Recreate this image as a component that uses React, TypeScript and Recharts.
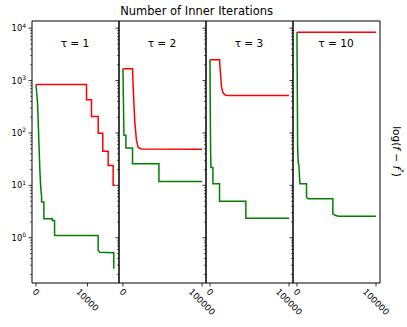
import { Line, LineChart, ReferenceArea, XAxis, YAxis } from 'recharts'

type Pt = { x: number; y: number }

// tau = 1
const tau1Red: Pt[] = [
  { x: 0, y: 843 }, { x: 9816, y: 843 }, { x: 9816, y: 430 }, { x: 10785, y: 430 },
  { x: 10785, y: 207 }, { x: 12083, y: 207 }, { x: 12083, y: 99 }, { x: 12975, y: 99 },
  { x: 12975, y: 45 }, { x: 14021, y: 45 }, { x: 14021, y: 24 }, { x: 14990, y: 24 },
  { x: 14990, y: 10 }, { x: 15360, y: 10 },
]
const tau1Green: Pt[] = [
  { x: 0, y: 843 }, { x: 320, y: 361 }, { x: 765, y: 19 }, { x: 900, y: 10 },
  { x: 1095, y: 6 }, { x: 1095, y: 4.8 }, { x: 1540, y: 4.8 }, { x: 1540, y: 2.3 },
  { x: 3170, y: 2.3 }, { x: 3170, y: 2.14 }, { x: 3614, y: 2.14 }, { x: 3614, y: 1.1 },
  { x: 12080, y: 1.1 }, { x: 12080, y: 0.57 }, { x: 12390, y: 0.53 }, { x: 15110, y: 0.52 },
  { x: 15110, y: 0.256 },
]

// tau = 2
const tau2Red: Pt[] = [
  { x: 0, y: 1680 }, { x: 12100, y: 1680 }, { x: 13000, y: 700 }, { x: 15000, y: 161 },
  { x: 17100, y: 72 }, { x: 19250, y: 53 }, { x: 23400, y: 49.5 }, { x: 100000, y: 49 },
]
const tau2Green: Pt[] = [
  { x: 0, y: 1680 }, { x: 600, y: 400 }, { x: 1000, y: 150 }, { x: 1250, y: 90 },
  { x: 3750, y: 90 }, { x: 3750, y: 51.5 }, { x: 12100, y: 51.5 }, { x: 12100, y: 25.8 },
  { x: 45500, y: 25.8 }, { x: 45500, y: 11.9 }, { x: 100000, y: 11.9 },
]

// tau = 3
const tau3Red: Pt[] = [
  { x: 0, y: 2495 }, { x: 12100, y: 2495 }, { x: 12700, y: 1800 }, { x: 13400, y: 1350 },
  { x: 14600, y: 750 }, { x: 16600, y: 575 }, { x: 19600, y: 526 }, { x: 25000, y: 520 },
  { x: 100000, y: 520 },
]
const tau3Green: Pt[] = [
  { x: 0, y: 2495 }, { x: 400, y: 300 }, { x: 830, y: 46 }, { x: 1300, y: 22 },
  { x: 3750, y: 22 }, { x: 3750, y: 10.7 }, { x: 12100, y: 10.7 }, { x: 12100, y: 5.0 },
  { x: 45400, y: 5.0 }, { x: 45400, y: 2.37 }, { x: 100000, y: 2.37 },
]

// tau = 10
const tau10Red: Pt[] = [{ x: 0, y: 8390 }, { x: 100000, y: 8390 }]
const tau10Green: Pt[] = [
  { x: 0, y: 8390 }, { x: 400, y: 1000 }, { x: 830, y: 54 }, { x: 1670, y: 26 },
  { x: 2500, y: 24 }, { x: 3750, y: 10.7 }, { x: 12100, y: 10.7 }, { x: 12100, y: 6.0 },
  { x: 14100, y: 5.55 }, { x: 45400, y: 5.55 }, { x: 45400, y: 2.87 }, { x: 48750, y: 2.66 },
  { x: 52900, y: 2.58 }, { x: 100000, y: 2.58 },
]

const panelTitles = ['1', '2', '3', '10']
const xTicksShort = [0, 10000]
const xTicksLong = [0, 100000]
const yMajorTicks = [1, 10, 100, 1000, 10000]
const yMinorMult = [2, 3, 4, 5, 6, 7, 8, 9]
const yMinorDecades = [0.1, 1, 10, 100, 1000]

const yDomain: [number, number] = [0.137, 13700]
const yTicks = [...yMajorTicks, ...yMinorDecades.flatMap((d) => yMinorMult.map((m) => m * d))]

const panels = [
  { red: tau1Red, green: tau1Green, xDomain: [-768, 16125], xTicks: xTicksShort },
  { red: tau2Red, green: tau2Green, xDomain: [-5000, 105000], xTicks: xTicksLong },
  { red: tau3Red, green: tau3Green, xDomain: [-5000, 105000], xTicks: xTicksLong },
  { red: tau10Red, green: tau10Green, xDomain: [-5000, 105000], xTicks: xTicksLong },
]

const FONT = '"DejaVu Sans", sans-serif'
const PLOT_TOP = 20.5
const PLOT_H = 262
const PLOT_W = 87
const plotLefts = [31.5, 118.5, 205.5, 292.5]
const AXIS_W = 30
const AXIS_H = 40
const RIGHT_PAD = 30

function YTick(props: any) {
  const { x, y, payload, showLabel } = props
  const lg = Math.log10(payload.value)
  const exp = Math.round(lg)
  const major = Math.abs(lg - exp) < 1e-6
  return (
    <g>
      <line x1={x - (major ? 3.5 : 2)} x2={x} y1={y} y2={y} stroke="#000" strokeWidth={major ? 0.8 : 0.6} />
      {major && showLabel && (
        <text x={x - 6} y={y + 3} textAnchor="end" fontSize={8.3} fontFamily={FONT} fill="#000">
          10
          <tspan dy={-3.5} fontSize={6}>
            {exp}
          </tspan>
        </text>
      )}
    </g>
  )
}

function XTick(props: any) {
  const { x, y, payload } = props
  const label = String(payload.value)
  const fs = 8.6
  const half = ((label.length * 0.636 + 0.73) * fs * 0.707) / 2
  const cy = y + 5 + half
  return (
    <g>
      <line x1={x} x2={x} y1={y} y2={y + 3.5} stroke="#000" strokeWidth={0.8} />
      <text
        x={x}
        y={cy}
        textAnchor="middle"
        dominantBaseline="central"
        transform={`rotate(45 ${x} ${cy})`}
        fontSize={fs}
        fontFamily={FONT}
        fill="#000"
      >
        {label}
      </text>
    </g>
  )
}

function Panel({ idx }: { idx: number }) {
  const p = panels[idx]
  const left = plotLefts[idx] - AXIS_W
  const top = PLOT_TOP - 5
  const w = AXIS_W + PLOT_W + RIGHT_PAD
  const h = 5 + PLOT_H + AXIS_H
  return (
    <div style={{ position: 'absolute', left, top, width: w, height: h }}>
      <LineChart width={w} height={h} margin={{ top: 5, right: RIGHT_PAD, bottom: 0, left: 0 }}>
        <XAxis
          type="number"
          dataKey="x"
          domain={p.xDomain}
          allowDataOverflow
          ticks={p.xTicks}
          interval={0}
          height={AXIS_H}
          axisLine={false}
          tickLine={false}
          tickSize={0}
          tickMargin={0}
          tick={(t: any) => <XTick {...t} />}
        />
        <YAxis
          type="number"
          scale="log"
          domain={yDomain}
          allowDataOverflow
          ticks={yTicks}
          interval={0}
          width={AXIS_W}
          axisLine={false}
          tickLine={false}
          tickSize={0}
          tickMargin={0}
          tick={(t: any) => <YTick {...t} showLabel={idx === 0} />}
        />
        <Line data={p.green} dataKey="y" type="linear" stroke="#008000" strokeWidth={1.5} dot={false} isAnimationActive={false} />
        <Line data={p.red} dataKey="y" type="linear" stroke="#ff0000" strokeWidth={1.5} dot={false} isAnimationActive={false} />
        <ReferenceArea
          x1={p.xDomain[0]}
          x2={p.xDomain[1]}
          y1={yDomain[0]}
          y2={yDomain[1]}
          fill="none"
          stroke="#000"
          strokeWidth={1}
          ifOverflow="visible"
        />
      </LineChart>
    </div>
  )
}

export default function App() {
  return (
    <div style={{ position: 'absolute', left: 0, top: 0, width: 407, height: 327, background: '#fff' }}>
      {panels.map((_, i) => (
        <Panel key={i} idx={i} />
      ))}
      <svg width={407} height={327} style={{ position: 'absolute', left: 0, top: 0, pointerEvents: 'none' }}>
        <text x={196.6} y={15.3} textAnchor="middle" fontSize={11.5} fontFamily={FONT} fill="#000">
          Number of Inner Iterations
        </text>
        {panelTitles.map((t, i) => (
          <text key={t} x={plotLefts[i] + PLOT_W / 2} y={46.7} textAnchor="middle" fontSize={10.6} fontFamily={FONT} fill="#000">
            {'τ = ' + t}
          </text>
        ))}
        <text
          x={397}
          y={151.5}
          textAnchor="middle"
          dominantBaseline="central"
          transform="rotate(90 397 151.5)"
          fontSize={10.5}
          fontFamily={FONT}
          fill="#000"
        >
          log(<tspan fontStyle="italic">f</tspan> − <tspan fontStyle="italic">f</tspan>
          <tspan dy={-4} fontSize={7}>*</tspan>
          <tspan dy={4}>)</tspan>
        </text>
      </svg>
    </div>
  )
}
